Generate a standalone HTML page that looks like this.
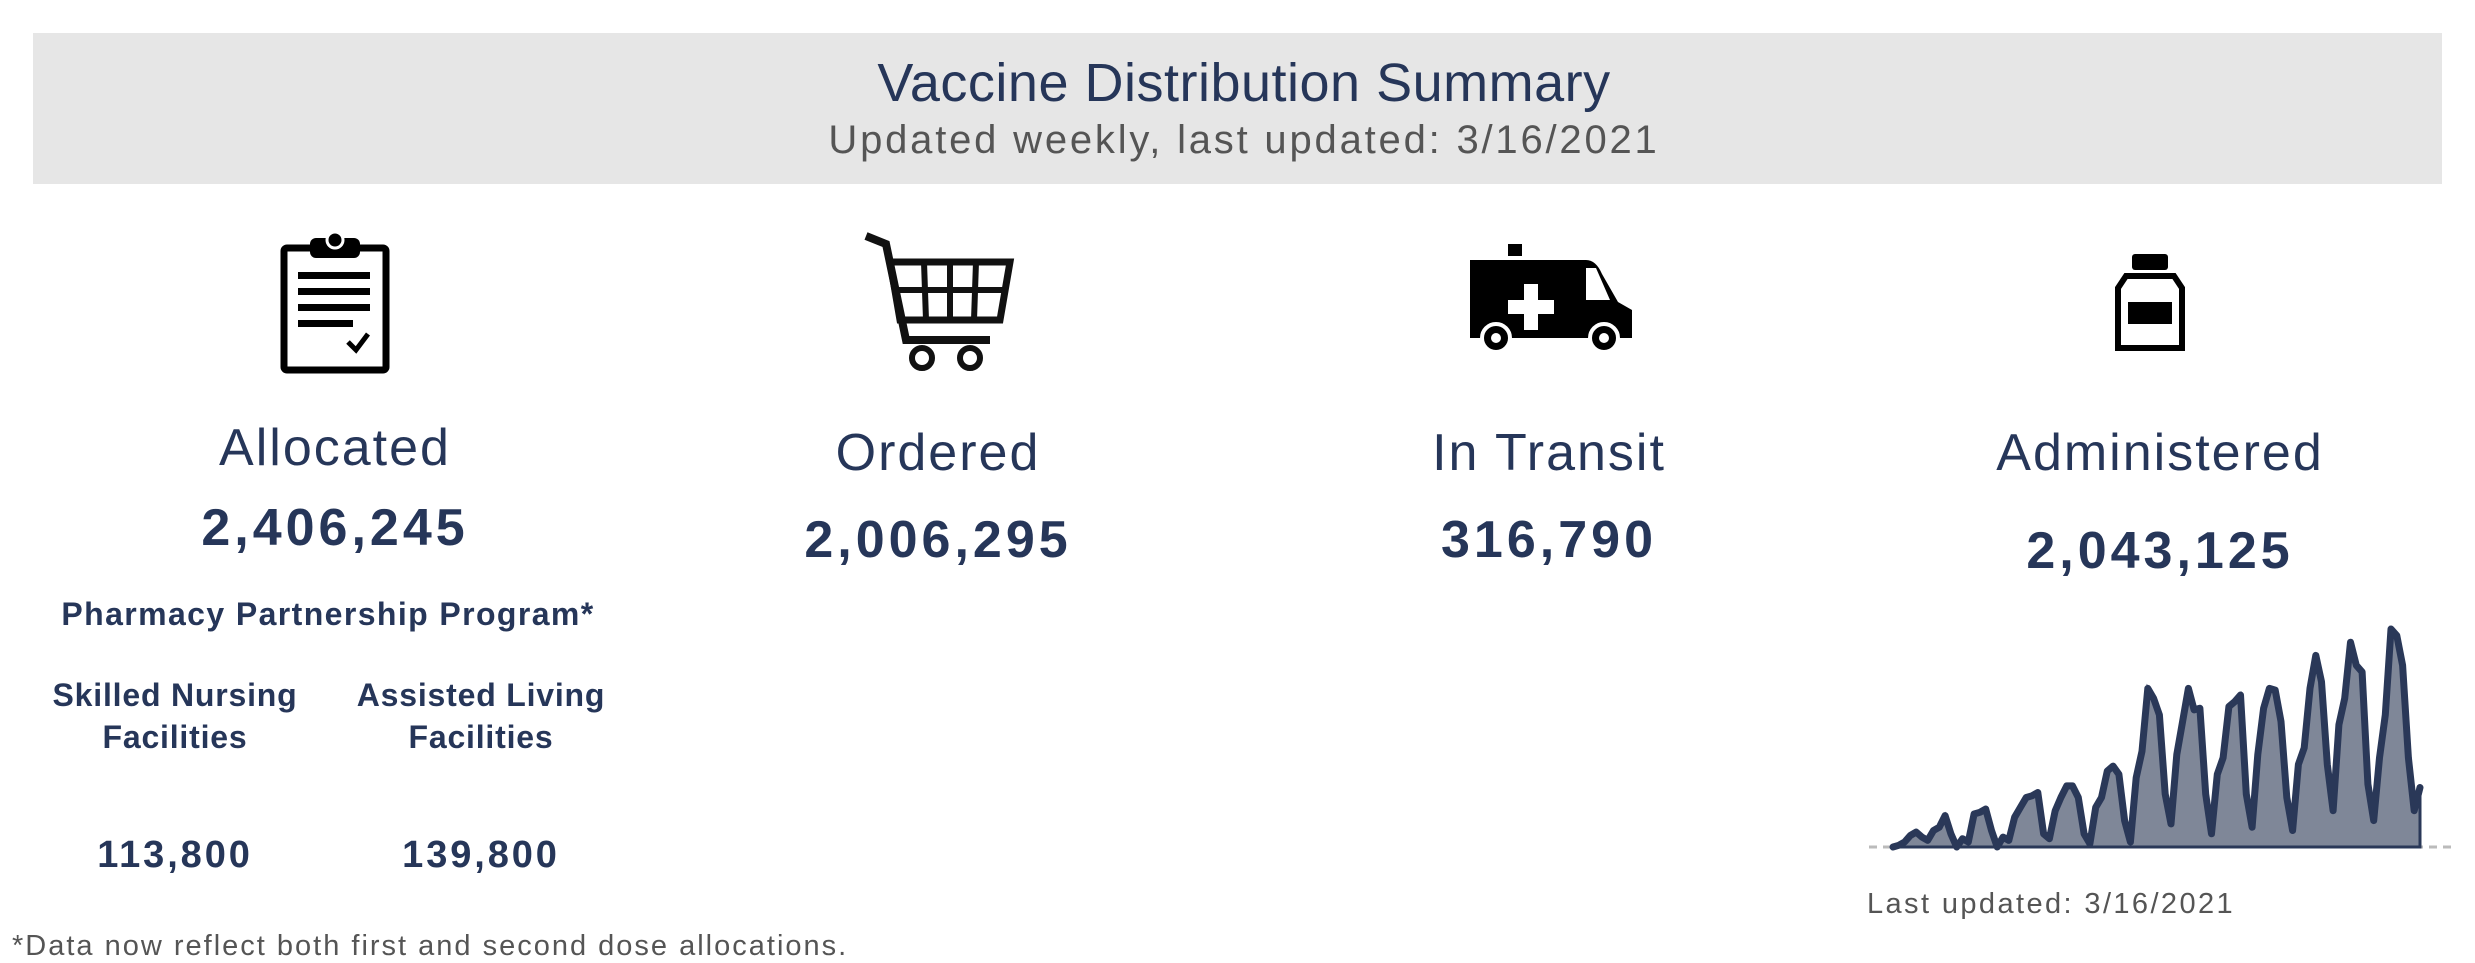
<!DOCTYPE html>
<html><head><meta charset="utf-8"><style>
body{margin:0;width:2475px;height:963px;background:#fff;position:relative;overflow:hidden;font-family:"Liberation Sans","DejaVu Sans",sans-serif;color:#263659}
.c{position:absolute;transform:translateX(-50%);white-space:nowrap;text-align:center;line-height:1}
.b{font-weight:bold}
.num{letter-spacing:4px}
.lbl{letter-spacing:2px}
</style></head><body>
<div style="position:absolute;left:33px;top:33px;width:2409px;height:151px;background:#e6e6e6"></div>
<div class="c" style="left:1244px;top:56px;font-size:54px;letter-spacing:0.5px">Vaccine Distribution Summary</div>
<div class="c" style="left:1244px;top:120px;font-size:40px;color:#555;letter-spacing:2.8px">Updated weekly, last updated: 3/16/2021</div>

<svg style="position:absolute;left:280px;top:230px" width="110" height="145" viewBox="0 0 110 145">
<rect x="4" y="18" width="102" height="122" rx="3" fill="#fff" stroke="#000" stroke-width="7"/>
<rect x="30" y="8" width="50" height="20" rx="6" fill="#000"/><circle cx="55" cy="10" r="8" fill="#000" stroke="#fff" stroke-width="3"/>
<rect x="18" y="42" width="72" height="7" fill="#000"/><rect x="18" y="58" width="72" height="7" fill="#000"/><rect x="18" y="74" width="72" height="7" fill="#000"/><rect x="18" y="90" width="55" height="7" fill="#000"/>
<path d="M68 112 L76 120 L88 104" fill="none" stroke="#000" stroke-width="5"/></svg>

<svg style="position:absolute;left:862px;top:230px" width="155" height="145" viewBox="0 0 155 145">
<path d="M4 6 L24 14 L44 110 L128 110" fill="none" stroke="#111" stroke-width="8"/>
<path d="M28 32 L148 32 L138 90 L38 90 Z" fill="none" stroke="#111" stroke-width="7"/>
<path d="M32 60 L144 60 M62 32 L64 90 M88 32 L88 90 M114 32 L112 90" stroke="#111" stroke-width="6"/>
<circle cx="60" cy="128" r="10" fill="#fff" stroke="#111" stroke-width="6"/><circle cx="108" cy="128" r="10" fill="#fff" stroke="#111" stroke-width="6"/></svg>

<svg style="position:absolute;left:1468px;top:244px" width="166" height="112" viewBox="0 0 166 112">
<rect x="40" y="0" width="14" height="12" fill="#000"/>
<path d="M2 16 L118 16 Q128 16 134 30 L150 58 L164 66 L164 94 L2 94 Z" fill="#000"/>
<path d="M118 24 L128 24 L142 56 L118 56 Z" fill="#fff"/>
<path d="M56 40 h14 v16 h16 v14 h-16 v16 h-14 v-16 h-16 v-14 h16 z" fill="#fff"/>
<circle cx="28" cy="94" r="14" fill="#000" stroke="#fff" stroke-width="4"/><circle cx="28" cy="94" r="5" fill="#fff"/>
<circle cx="136" cy="94" r="14" fill="#000" stroke="#fff" stroke-width="4"/><circle cx="136" cy="94" r="5" fill="#fff"/></svg>

<svg style="position:absolute;left:2112px;top:252px" width="76" height="100" viewBox="0 0 76 100">
<rect x="20" y="2" width="36" height="16" rx="3" fill="#000"/>
<path d="M14 24 L62 24 L70 36 L70 96 L6 96 L6 36 Z" fill="#fff" stroke="#000" stroke-width="6"/>
<rect x="16" y="50" width="44" height="22" fill="#000"/></svg>

<div class="c lbl" style="left:335px;top:422px;font-size:52px">Allocated</div>
<div class="c b num" style="left:335px;top:502px;font-size:52px">2,406,245</div>
<div class="c lbl" style="left:938px;top:427px;font-size:52px">Ordered</div>
<div class="c b num" style="left:938px;top:514px;font-size:52px">2,006,295</div>
<div class="c lbl" style="left:1549px;top:427px;font-size:52px">In Transit</div>
<div class="c b num" style="left:1549px;top:514px;font-size:52px">316,790</div>
<div class="c lbl" style="left:2160px;top:427px;font-size:52px">Administered</div>
<div class="c b num" style="left:2160px;top:525px;font-size:52px">2,043,125</div>

<div class="c b" style="left:328px;top:598px;font-size:32px;letter-spacing:1.4px">Pharmacy Partnership Program*</div>
<div class="c b" style="left:175px;top:674px;font-size:32px;line-height:42px;letter-spacing:0.8px">Skilled Nursing<br>Facilities</div>
<div class="c b" style="left:481px;top:674px;font-size:32px;line-height:42px;letter-spacing:0.8px">Assisted Living<br>Facilities</div>
<div class="c b" style="left:175px;top:836px;font-size:38px;letter-spacing:2.9px">113,800</div>
<div class="c b" style="left:481px;top:836px;font-size:38px;letter-spacing:2.9px">139,800</div>
<div style="position:absolute;left:12px;top:930px;font-size:29px;color:#555;white-space:nowrap;letter-spacing:2px">*Data now reflect both first and second dose allocations.</div>

<svg id="spark" style="position:absolute;left:0;top:0" width="2475" height="963"></svg>
<div style="position:absolute;left:1867px;top:888px;font-size:29px;color:#555;white-space:nowrap;letter-spacing:2.4px">Last updated: 3/16/2021</div>

<script>
const dailyDoses=[0,5,15,35,45,30,20,50,60,95,40,0,25,15,100,105,115,50,0,30,20,90,120,150,155,165,40,25,110,150,185,185,150,40,10,120,150,230,245,220,80,15,210,290,480,450,400,160,70,280,380,480,415,420,160,40,220,270,425,440,460,160,60,280,420,480,475,380,150,50,250,300,480,580,500,250,110,370,450,620,550,530,190,80,270,400,660,640,550,270,110,180];
const yMax=666;
const x0=1893,x1=2420,yBase=847,yH=220;
const xs=i=>x0+(x1-x0)*i/(dailyDoses.length-1);
const ys=v=>yBase-yH*v/yMax;
const svg=document.getElementById('spark');
const NS='http://www.w3.org/2000/svg';
const dash=document.createElementNS(NS,'line');


dash.setAttribute('x1',1869);dash.setAttribute('x2',2452);dash.setAttribute('y1',yBase);dash.setAttribute('y2',yBase);
dash.setAttribute('stroke','#bbb');dash.setAttribute('stroke-width',3);dash.setAttribute('stroke-dasharray','8 6');
svg.appendChild(dash);
let pts=dailyDoses.map((v,i)=>xs(i).toFixed(1)+','+ys(v).toFixed(1));
const area=document.createElementNS(NS,'polygon');


area.setAttribute('points',xs(0)+','+yBase+' '+pts.join(' ')+' '+xs(dailyDoses.length-1)+','+yBase);
area.setAttribute('fill','#7f8798');area.setAttribute('stroke','#2a3858');area.setAttribute('stroke-width',3);
svg.appendChild(area);
const line=document.createElementNS(NS,'polyline');


line.setAttribute('points',pts.join(' '));
line.setAttribute('fill','none');line.setAttribute('stroke','#2a3858');line.setAttribute('stroke-width',7);line.setAttribute('stroke-linejoin','round');line.setAttribute('stroke-linecap','round');
svg.appendChild(line);
</script>
</body></html>
